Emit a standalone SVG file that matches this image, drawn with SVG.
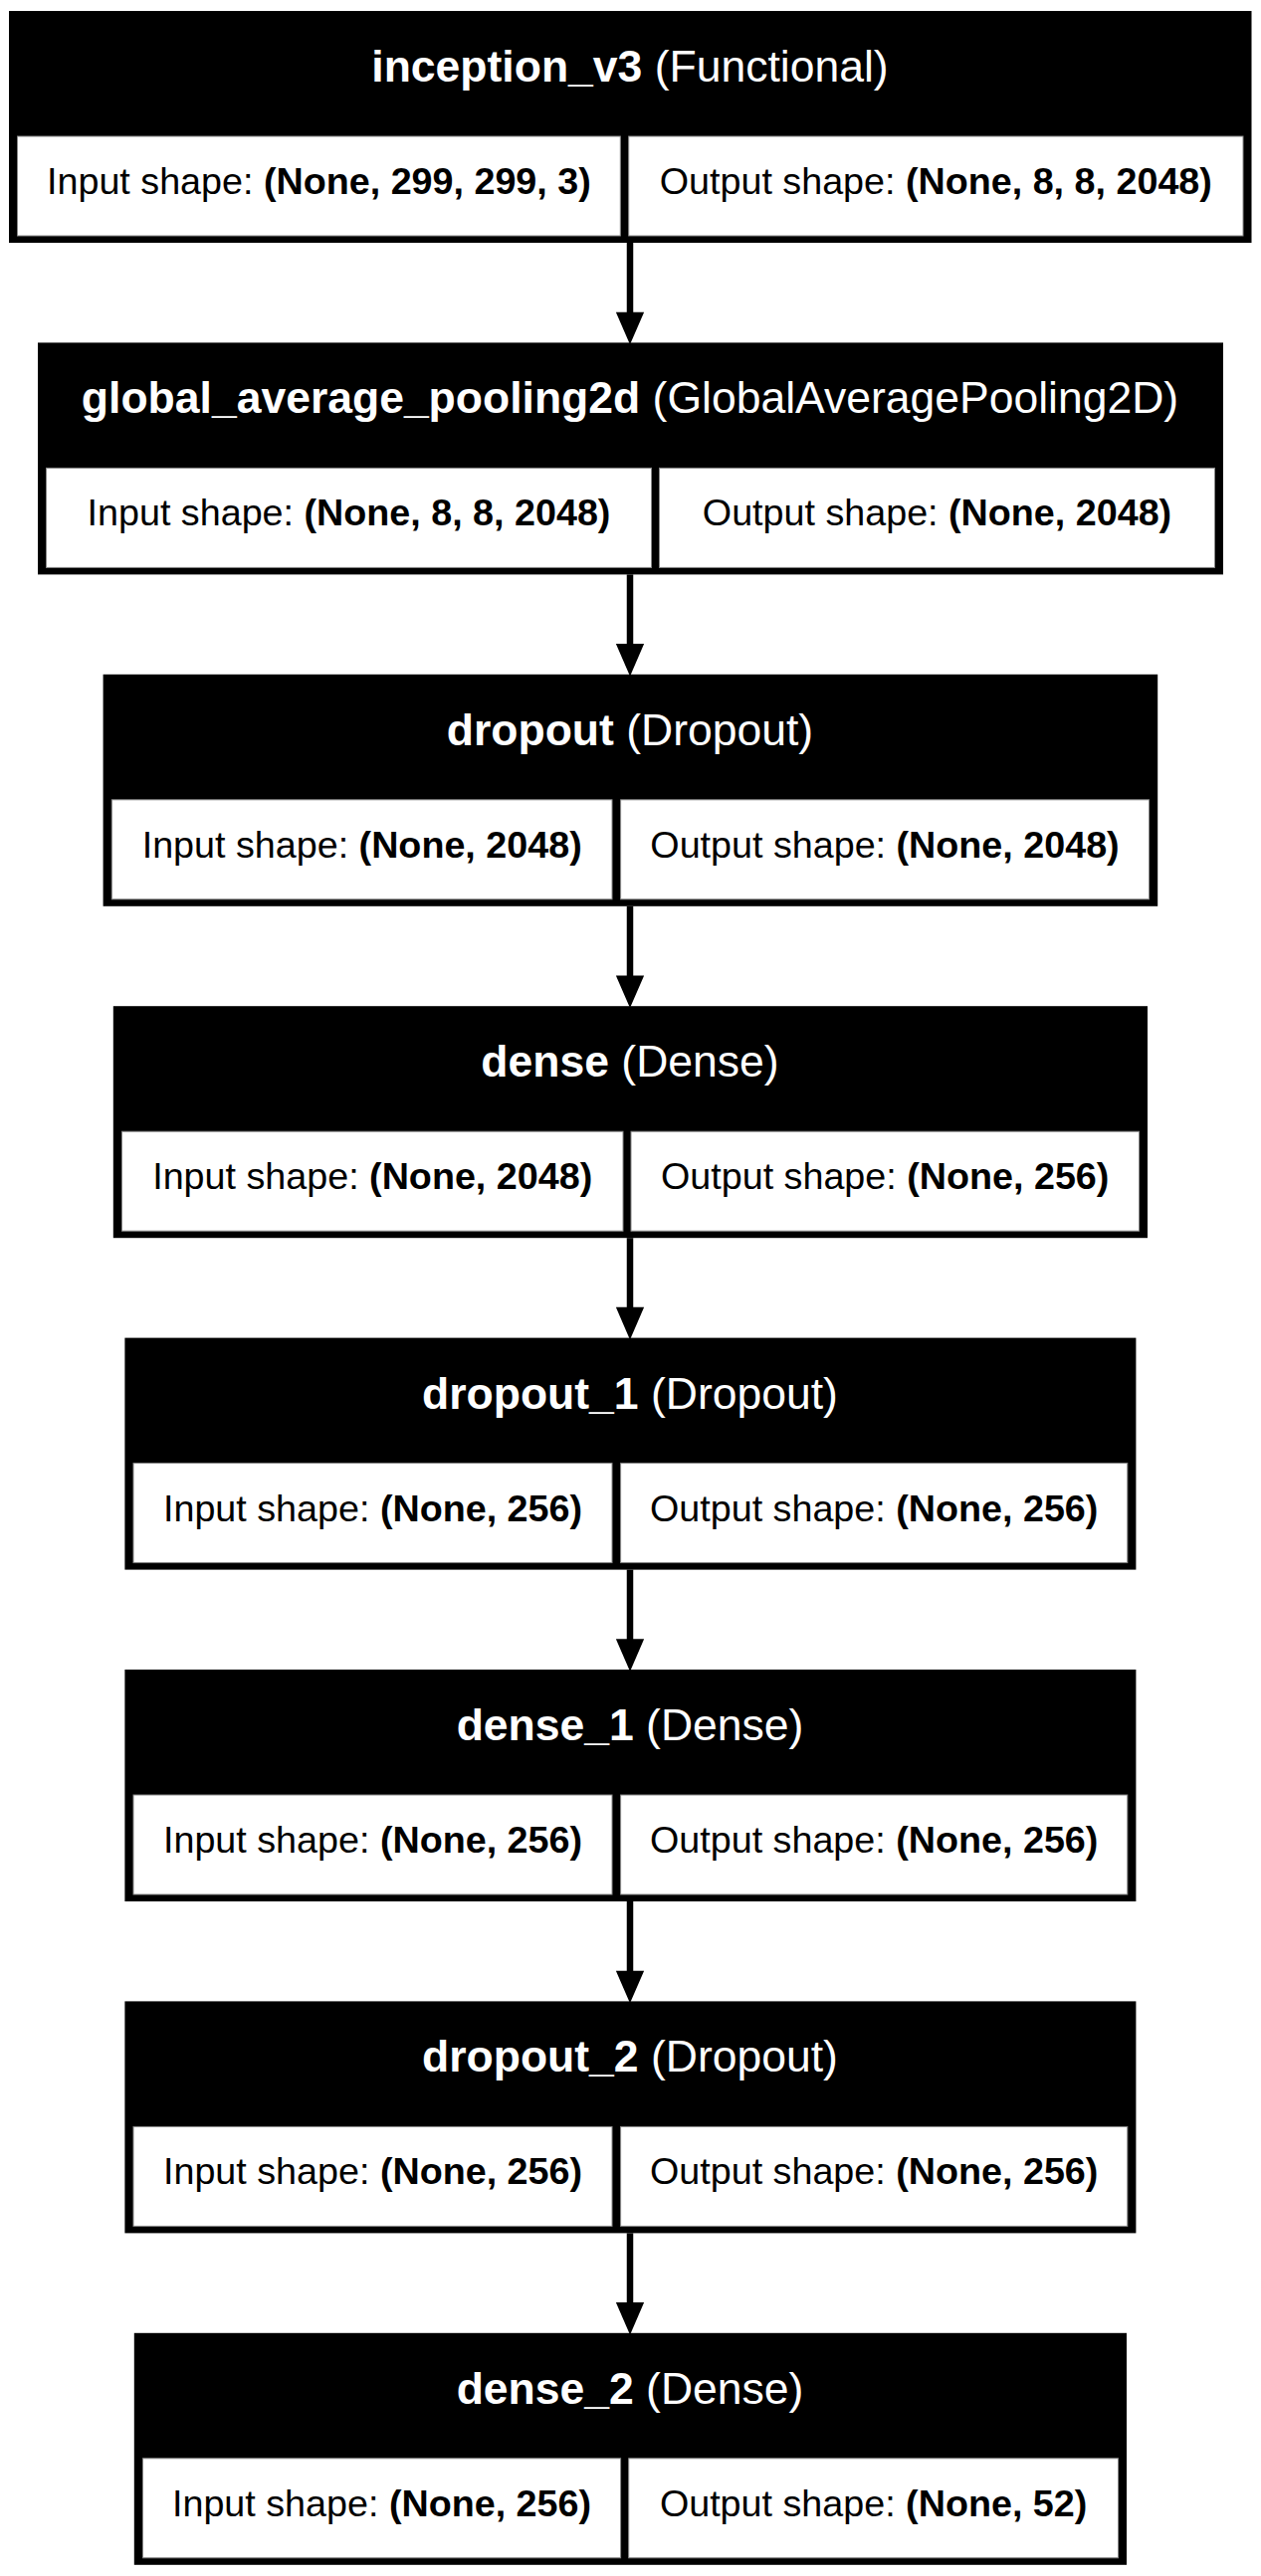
<svg xmlns="http://www.w3.org/2000/svg" width="1267" height="2589" viewBox="0 0 1267 2589">
<style>
.frame{fill:#000}
.cell{fill:#fff;stroke:#888;stroke-width:1}
.title{font-family:"Liberation Sans",Arial,sans-serif;font-size:44.5px;fill:#fff;text-anchor:middle}
.row{font-family:"Liberation Sans",Arial,sans-serif;font-size:37.7px;fill:#000;text-anchor:middle}
.b{font-weight:bold}
.edge{stroke:#000;stroke-width:6.5;fill:none}
.head{fill:#000;stroke:#000;stroke-width:1.5}
</style>
<rect width="1267" height="2589" fill="#fff"/>
<g id="edges">
<line class="edge" x1="633" y1="244" x2="633" y2="318"/><polygon class="head" points="633,344.4 620,314.4 646,314.4"/>
<line class="edge" x1="633" y1="577.4" x2="633" y2="651"/><polygon class="head" points="633,677.8 620,647.8 646,647.8"/>
<line class="edge" x1="633" y1="910.8" x2="633" y2="985"/><polygon class="head" points="633,1011.2 620,981.2 646,981.2"/>
<line class="edge" x1="633" y1="1244.2" x2="633" y2="1318"/><polygon class="head" points="633,1344.6 620,1314.6 646,1314.6"/>
<line class="edge" x1="633" y1="1577.6" x2="633" y2="1651"/><polygon class="head" points="633,1678 620,1648 646,1648"/>
<line class="edge" x1="633" y1="1911" x2="633" y2="1985"/><polygon class="head" points="633,2011.4 620,1981.4 646,1981.4"/>
<line class="edge" x1="633" y1="2244.4" x2="633" y2="2318"/><polygon class="head" points="633,2344.8 620,2314.8 646,2314.8"/>
</g>
<g id="inception_v3">
<rect class="frame" x="9" y="11" width="1248.5" height="233"/>
<rect class="cell" x="17.5" y="137" width="605.8" height="100"/>
<rect class="cell" x="631.7" y="137" width="617.3" height="100"/>
<text class="title" x="633" y="82"><tspan class="b">inception_v3</tspan> (Functional)</text>
<text class="row" x="320.4" y="195">Input shape: <tspan class="b">(None, 299, 299, 3)</tspan></text>
<text class="row" x="940.3" y="195">Output shape: <tspan class="b">(None, 8, 8, 2048)</tspan></text>
</g>
<g id="global_average_pooling2d">
<rect class="frame" x="38" y="344.4" width="1191" height="233"/>
<rect class="cell" x="46.5" y="470.4" width="608" height="100"/>
<rect class="cell" x="662.5" y="470.4" width="558" height="100"/>
<text class="title" x="633" y="415.4"><tspan class="b">global_average_pooling2d</tspan> (GlobalAveragePooling2D)</text>
<text class="row" x="350.5" y="528.4">Input shape: <tspan class="b">(None, 8, 8, 2048)</tspan></text>
<text class="row" x="941.5" y="528.4">Output shape: <tspan class="b">(None, 2048)</tspan></text>
</g>
<g id="dropout">
<rect class="frame" x="103.6" y="677.8" width="1059.6" height="233"/>
<rect class="cell" x="112.3" y="803.8" width="502.7" height="100"/>
<rect class="cell" x="623.6" y="803.8" width="530.9" height="100"/>
<text class="title" x="633" y="748.8"><tspan class="b">dropout</tspan> (Dropout)</text>
<text class="row" x="363.7" y="861.8">Input shape: <tspan class="b">(None, 2048)</tspan></text>
<text class="row" x="889" y="861.8">Output shape: <tspan class="b">(None, 2048)</tspan></text>
</g>
<g id="dense">
<rect class="frame" x="113.8" y="1011.2" width="1039.2" height="233"/>
<rect class="cell" x="122.5" y="1137.2" width="503.5" height="100"/>
<rect class="cell" x="634" y="1137.2" width="510.5" height="100"/>
<text class="title" x="633" y="1082.2"><tspan class="b">dense</tspan> (Dense)</text>
<text class="row" x="374.2" y="1195.2">Input shape: <tspan class="b">(None, 2048)</tspan></text>
<text class="row" x="889.2" y="1195.2">Output shape: <tspan class="b">(None, 256)</tspan></text>
</g>
<g id="dropout_1">
<rect class="frame" x="125.4" y="1344.6" width="1016" height="233"/>
<rect class="cell" x="134" y="1470.6" width="481" height="100"/>
<rect class="cell" x="623.6" y="1470.6" width="509.2" height="100"/>
<text class="title" x="633" y="1415.6"><tspan class="b">dropout_1</tspan> (Dropout)</text>
<text class="row" x="374.5" y="1528.6">Input shape: <tspan class="b">(None, 256)</tspan></text>
<text class="row" x="878.2" y="1528.6">Output shape: <tspan class="b">(None, 256)</tspan></text>
</g>
<g id="dense_1">
<rect class="frame" x="125.4" y="1678" width="1016" height="233"/>
<rect class="cell" x="134" y="1804" width="481" height="100"/>
<rect class="cell" x="623.6" y="1804" width="509.2" height="100"/>
<text class="title" x="633" y="1749"><tspan class="b">dense_1</tspan> (Dense)</text>
<text class="row" x="374.5" y="1862">Input shape: <tspan class="b">(None, 256)</tspan></text>
<text class="row" x="878.2" y="1862">Output shape: <tspan class="b">(None, 256)</tspan></text>
</g>
<g id="dropout_2">
<rect class="frame" x="125.4" y="2011.4" width="1016" height="233"/>
<rect class="cell" x="134" y="2137.4" width="481" height="100"/>
<rect class="cell" x="623.6" y="2137.4" width="509.2" height="100"/>
<text class="title" x="633" y="2082.4"><tspan class="b">dropout_2</tspan> (Dropout)</text>
<text class="row" x="374.5" y="2195.4">Input shape: <tspan class="b">(None, 256)</tspan></text>
<text class="row" x="878.2" y="2195.4">Output shape: <tspan class="b">(None, 256)</tspan></text>
</g>
<g id="dense_2">
<rect class="frame" x="134.8" y="2344.8" width="997.2" height="233"/>
<rect class="cell" x="143.5" y="2470.8" width="480.1" height="100"/>
<rect class="cell" x="631.7" y="2470.8" width="491.8" height="100"/>
<text class="title" x="633" y="2415.8"><tspan class="b">dense_2</tspan> (Dense)</text>
<text class="row" x="383.5" y="2528.8">Input shape: <tspan class="b">(None, 256)</tspan></text>
<text class="row" x="877.6" y="2528.8">Output shape: <tspan class="b">(None, 52)</tspan></text>
</g>
</svg>
